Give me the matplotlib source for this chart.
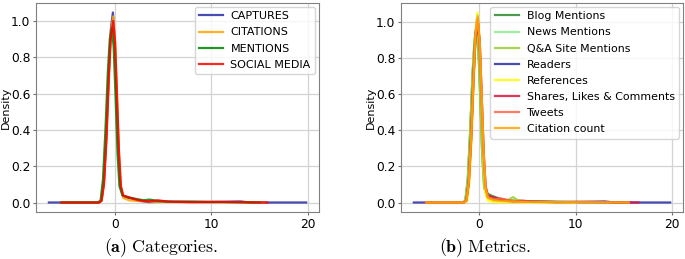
import matplotlib
matplotlib.use("Agg")
import matplotlib.pyplot as plt

# ---- (a) categories: KDE curves ----
CAT_NAMES = ["CAPTURES", "CITATIONS", "MENTIONS", "SOCIAL MEDIA"]
CAT_COLORS = ["#2b2ba8", "orange", "green", "red"]

captures_x = [-6.8, -1.6, -1.35, -1.1, -0.85, -0.6, -0.4, -0.18, 0.0, 0.2, 0.4, 0.6, 0.85, 1.5, 2.5, 3.5, 5, 8, 10, 13, 14, 19.8]
captures_y = [0, 0, 0.01, 0.12, 0.38, 0.72, 0.95, 1.047, 0.9, 0.6, 0.28, 0.09, 0.035, 0.025, 0.01, 0.002, 0.004, 0.003, 0.002, 0.006, 0, 0]
citations_x = [-5.5, -1.6, -1.35, -1.1, -0.85, -0.6, -0.4, -0.15, 0.05, 0.25, 0.45, 0.65, 0.9, 1.5, 2.5, 4, 6, 9, 12, 15.5]
citations_y = [0, 0, 0.01, 0.11, 0.36, 0.7, 0.93, 1.025, 0.88, 0.58, 0.27, 0.08, 0.025, 0.012, 0.008, 0.004, 0.003, 0.002, 0.001, 0]
mentions_x = [-5.5, -1.7, -1.45, -1.2, -0.95, -0.7, -0.5, -0.3, -0.1, 0.1, 0.3, 0.5, 0.8, 1.4, 2.2, 3.0, 3.6, 4.5, 6, 8, 10, 15]
mentions_y = [0, 0, 0.012, 0.13, 0.4, 0.72, 0.9, 0.96, 0.86, 0.58, 0.27, 0.09, 0.04, 0.028, 0.02, 0.012, 0.016, 0.008, 0.004, 0.005, 0.003, 0]
social_x = [-5.5, -1.6, -1.35, -1.1, -0.85, -0.6, -0.4, -0.15, 0.05, 0.25, 0.45, 0.65, 0.9, 1.5, 2.5, 3.5, 4.5, 5.5, 8, 10.5, 13, 15.8]
social_y = [0, 0, 0.01, 0.1, 0.34, 0.68, 0.9, 1.0, 0.88, 0.58, 0.28, 0.09, 0.038, 0.028, 0.012, 0.006, 0.012, 0.005, 0.002, 0.004, 0.002, 0]

# ---- (b) metrics ----
MET_NAMES = ["Blog Mentions", "News Mentions", "Q&A Site Mentions", "Readers",
             "References", "Shares, Likes & Comments", "Tweets", "Citation count"]
MET_COLORS = ["#2e8b2e", "lightgreen", "yellowgreen", "#2b2ba8",
              "yellow", "crimson", "tomato", "orange"]

blog_x = [-5.5, -1.7, -1.45, -1.2, -0.95, -0.7, -0.5, -0.3, -0.1, 0.1, 0.3, 0.5, 0.8, 1.4, 2.2, 3, 4.5, 6, 9, 15]
blog_y = [0, 0, 0.012, 0.13, 0.4, 0.72, 0.89, 0.95, 0.85, 0.58, 0.27, 0.1, 0.05, 0.035, 0.02, 0.012, 0.008, 0.006, 0.003, 0]
news_x = [-5.5, -1.7, -1.45, -1.2, -0.95, -0.7, -0.5, -0.3, -0.1, 0.1, 0.3, 0.5, 0.8, 1.4, 2.5, 4, 7, 14]
news_y = [0, 0, 0.012, 0.12, 0.39, 0.72, 0.91, 0.98, 0.87, 0.58, 0.26, 0.08, 0.03, 0.02, 0.01, 0.005, 0.002, 0]
qa_x = [-5.5, -1.7, -1.45, -1.2, -0.95, -0.7, -0.5, -0.3, -0.1, 0.1, 0.3, 0.5, 0.8, 1.4, 2.2, 3.0, 3.5, 4.0, 5, 8, 14]
qa_y = [0, 0, 0.012, 0.12, 0.39, 0.71, 0.9, 0.97, 0.87, 0.58, 0.26, 0.08, 0.03, 0.015, 0.01, 0.015, 0.03, 0.012, 0.004, 0.002, 0]
readers_x = [-6.8, -1.6, -1.35, -1.1, -0.85, -0.6, -0.4, -0.2, 0.0, 0.2, 0.4, 0.6, 0.85, 1.5, 2.5, 3.5, 5, 8, 11, 13, 14, 19.8]
readers_y = [0, 0, 0.01, 0.12, 0.38, 0.72, 0.94, 1.04, 0.9, 0.6, 0.28, 0.09, 0.035, 0.025, 0.012, 0.004, 0.005, 0.003, 0.003, 0.006, 0, 0]
refs_x = [-5.5, -1.5, -1.25, -1.0, -0.75, -0.5, -0.35, -0.2, 0.0, 0.2, 0.4, 0.6, 0.9, 1.3, 2, 4, 10]
refs_y = [0, 0, 0.01, 0.13, 0.42, 0.78, 0.97, 1.055, 0.92, 0.58, 0.25, 0.06, 0.01, 0.004, 0.002, 0.001, 0]
shares_x = [-5.5, -1.6, -1.35, -1.1, -0.85, -0.6, -0.4, -0.15, 0.05, 0.25, 0.45, 0.65, 0.9, 1.5, 2.5, 3.5, 4.5, 5.5, 8, 11, 13, 16.5]
shares_y = [0, 0, 0.01, 0.1, 0.34, 0.68, 0.9, 1.0, 0.88, 0.58, 0.28, 0.09, 0.038, 0.028, 0.014, 0.006, 0.01, 0.005, 0.002, 0.004, 0.002, 0]
tweets_x = [-5.5, -1.6, -1.35, -1.1, -0.85, -0.6, -0.4, -0.15, 0.05, 0.25, 0.45, 0.65, 0.9, 1.5, 2.3, 3.2, 4.5, 7, 12, 15.5]
tweets_y = [0, 0, 0.01, 0.11, 0.36, 0.7, 0.93, 1.02, 0.88, 0.58, 0.27, 0.08, 0.03, 0.02, 0.022, 0.01, 0.005, 0.003, 0.001, 0]
citcount_x = [-5.5, -1.6, -1.35, -1.1, -0.85, -0.6, -0.4, -0.18, 0.05, 0.25, 0.45, 0.65, 0.9, 1.5, 2.5, 4, 6, 9, 12, 15.5]
citcount_y = [0, 0, 0.01, 0.11, 0.36, 0.7, 0.93, 1.03, 0.88, 0.58, 0.27, 0.08, 0.025, 0.012, 0.008, 0.004, 0.003, 0.002, 0.001, 0]

CAT_X = [captures_x, citations_x, mentions_x, social_x]
CAT_Y = [captures_y, citations_y, mentions_y, social_y]
MET_X = [blog_x, news_x, qa_x, readers_x, refs_x, shares_x, tweets_x, citcount_x]
MET_Y = [blog_y, news_y, qa_y, readers_y, refs_y, shares_y, tweets_y, citcount_y]

plt.rcParams["mathtext.fontset"] = "cm"
fig = plt.figure(figsize=(6.85, 2.59), dpi=100)
ax1 = fig.add_axes([36 / 685, 1 - 212 / 259, 283 / 685, 209 / 259])
ax2 = fig.add_axes([401 / 685, 1 - 212 / 259, 282 / 685, 209 / 259])


def style(ax):
    ax.grid(True, color="#d3d3d3", linewidth=0.9)
    ax.set_axisbelow(True)
    for s in ax.spines.values():
        s.set_color("#808080")
    ax.tick_params(labelsize=8.8, length=2.5, pad=1.5, color="#707070")
    ax.set_ylabel("Density", fontsize=8)
    ax.yaxis.set_label_coords(-0.088, 0.5)
    ax.set_yticks([0.0, 0.2, 0.4, 0.6, 0.8, 1.0])
    ax.set_xticks([0, 10, 20])


for xs, ys, name, c in zip(CAT_X, CAT_Y, CAT_NAMES, CAT_COLORS):
    ax1.plot(xs, ys, color=c, lw=1.6, alpha=0.85, label=name)
for xs, ys, name, c in zip(MET_X, MET_Y, MET_NAMES, MET_COLORS):
    ax2.plot(xs, ys, color=c, lw=1.6, alpha=0.85, label=name)

style(ax1)
style(ax2)
ax1.legend(loc="upper right", fontsize=8, frameon=True, handlelength=2.1,
           labelspacing=0.55, handletextpad=0.7, borderaxespad=0.35)
ax2.legend(loc="upper right", fontsize=7.9, frameon=True, handlelength=2.2,
           labelspacing=0.56, handletextpad=0.7, borderaxespad=0.35)

fig.text(161 / 685, 1 - 248 / 259, r"$\mathbf{(a)}\ \mathrm{Categories.}$",
         ha="center", va="center", fontsize=12.8)
fig.text(485 / 685, 1 - 248 / 259, r"$\mathbf{(b)}\ \mathrm{Metrics.}$",
         ha="center", va="center", fontsize=12.8)

fig.savefig("out.png", dpi=100)
